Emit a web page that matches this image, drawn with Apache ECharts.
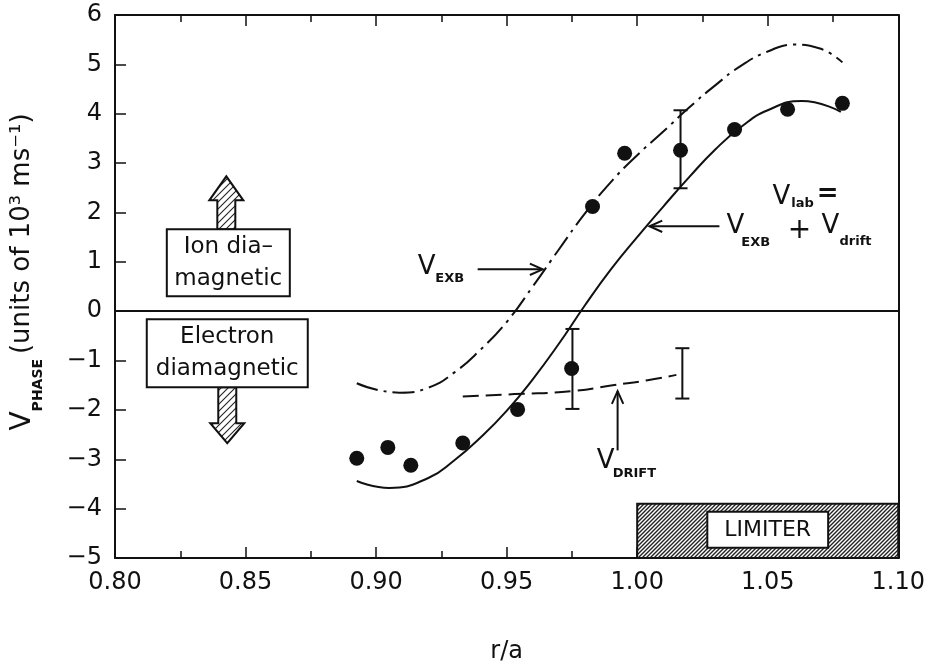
<!DOCTYPE html>
<html>
<head>
<meta charset="utf-8">
<script src="https://cdn.jsdelivr.net/npm/echarts@6/dist/echarts.min.js"></script>
<style>
  html, body { margin: 0; padding: 0; background: #fff; }
  #chart { width: 928px; height: 672px; }
</style>
</head>
<body>
<div id="chart"></div>
<script>
const FONT = 'DejaVu Sans';
const INK = '#111';

// Axis ranges
const xMin = 0.80, xMax = 1.10, xStep = 0.05;
const yMin = -5, yMax = 6, yStep = 1;

// Measured phase velocity (r/a, units of 10^3 m/s)
const pointR = [0.8926, 0.9045, 0.9133, 0.9332, 0.9542, 0.9749, 0.9829, 0.9952, 1.0166, 1.0373, 1.0576, 1.0786];
const pointV = [-2.98, -2.76, -3.12, -2.67, -1.99, -1.16, 2.12, 3.20, 3.26, 3.68, 4.09, 4.21];

// V_lab = V_ExB + V_drift
const labR = [0.8926, 0.905, 0.920, 0.930, 0.940, 0.950, 0.960, 0.970, 0.980, 0.990, 1.000, 1.010, 1.020, 1.030, 1.040, 1.050, 1.063, 1.078];
const labV = [-3.44, -3.58, -3.38, -3.02, -2.56, -2.02, -1.38, -0.66, 0.12, 0.85, 1.50, 2.12, 2.72, 3.28, 3.74, 4.07, 4.26, 4.04];

// V_ExB
const exbR = [0.8926, 0.909, 0.920, 0.930, 0.940, 0.950, 0.960, 0.970, 0.980, 0.990, 1.000, 1.010, 1.020, 1.030, 1.040, 1.050, 1.060, 1.070, 1.0786];
const exbV = [-1.46, -1.65, -1.55, -1.24, -0.78, -0.22, 0.50, 1.25, 1.98, 2.62, 3.16, 3.64, 4.13, 4.58, 4.98, 5.26, 5.40, 5.32, 5.04];

// V_drift
const driftR = [0.9332, 0.9530, 0.9750, 0.9906, 1.0040, 1.0150];
const driftV = [-1.73, -1.68, -1.62, -1.50, -1.40, -1.29];

// Error bars: position, lower end, upper end
const errR = [0.9752, 1.0166, 1.0173];
const errLow = [-1.98, 2.49, -1.77];
const errHigh = [-0.36, 4.07, -0.75];

// Limiter shadow region
const limiterR = [1.00, 1.10];
const limiterV = [-5, -3.9];

const pair = (xs, ys) => xs.map((x, i) => [x, ys[i]]);

function hatch(size, lw, color) {
  const c = document.createElement('canvas');
  c.width = c.height = size;
  const g = c.getContext('2d');
  g.fillStyle = '#fff';
  g.fillRect(0, 0, size, size);
  g.strokeStyle = color;
  g.lineWidth = lw;
  g.beginPath();
  g.moveTo(0, size); g.lineTo(size, 0);
  g.moveTo(-size / 2, size / 2); g.lineTo(size / 2, -size / 2);
  g.moveTo(size / 2, size * 1.5); g.lineTo(size * 1.5, size / 2);
  g.stroke();
  return c;
}
const limiterHatch = { image: hatch(4, 1.4, '#222'), repeat: 'repeat' };
const arrowHatch = { image: hatch(7, 1.1, '#222'), repeat: 'repeat' };

const chart = echarts.init(document.getElementById('chart'), null, { renderer: 'canvas' });

const tickFont = { color: INK, fontFamily: FONT, fontSize: 24 };
const lineSty = { color: INK, width: 2 };

const option = {
  animation: false,
  backgroundColor: '#fff',
  grid: { left: 115, right: 29, top: 15, bottom: 114 },
  xAxis: [
    {
      type: 'value', min: xMin, max: xMax, interval: xStep, position: 'bottom',
      axisLine: { onZero: false, lineStyle: lineSty },
      axisTick: { inside: true, length: 11, lineStyle: { color: INK, width: 1.5 } },
      minorTick: { show: true, splitNumber: 2, length: 7, lineStyle: { color: INK, width: 1.5 } },
      splitLine: { show: false },
      axisLabel: Object.assign({ margin: 13, formatter: v => v.toFixed(2) }, tickFont),
      name: 'r/a', nameLocation: 'middle', nameGap: 82,
      nameTextStyle: { color: INK, fontFamily: FONT, fontSize: 24 }
    },
    {
      type: 'value', min: xMin, max: xMax, interval: xStep, position: 'top',
      axisLine: { onZero: false, lineStyle: lineSty },
      axisTick: { inside: true, length: 11, lineStyle: { color: INK, width: 1.5 } },
      minorTick: { show: true, splitNumber: 2, length: 7, lineStyle: { color: INK, width: 1.5 } },
      splitLine: { show: false },
      axisLabel: { show: false }
    }
  ],
  yAxis: [
    {
      type: 'value', min: yMin, max: yMax, interval: yStep,
      axisLine: { show: true, onZero: false, lineStyle: lineSty },
      axisTick: { inside: true, length: 11, lineStyle: { color: INK, width: 1.5 } },
      splitLine: { show: false },
      axisLabel: Object.assign({ margin: 13, formatter: v => (v < 0 ? '\u2212' + Math.abs(v) : String(v)) }, tickFont)
    },
    {
      type: 'value', min: yMin, max: yMax, interval: yStep, position: 'right',
      axisLine: { show: true, onZero: false, lineStyle: lineSty },
      axisTick: { show: false },
      splitLine: { show: false },
      axisLabel: { show: false }
    }
  ],
  series: [
    {
      name: 'V_lab', type: 'line', data: pair(labR, labV), smooth: 0.5,
      symbol: 'none', lineStyle: { color: INK, width: 2 }, z: 3,
      markLine: {
        silent: true, symbol: ['none', 'none'], label: { show: false },
        lineStyle: { color: INK, width: 2, type: 'solid' },
        data: [{ yAxis: 0 }]
      },
      markArea: {
        silent: true,
        itemStyle: { color: limiterHatch, borderColor: INK, borderWidth: 2 },
        data: [[{ coord: [limiterR[0], limiterV[0]] }, { coord: [limiterR[1], limiterV[1]] }]]
      }
    },
    {
      name: 'V_ExB', type: 'line', data: pair(exbR, exbV), smooth: 0.5,
      symbol: 'none', lineStyle: { color: INK, width: 2, type: [22, 6, 3, 6] }, z: 3
    },
    {
      name: 'V_drift', type: 'line', data: pair(driftR, driftV), smooth: 0.5,
      symbol: 'none', lineStyle: { color: INK, width: 2, type: [16, 7] }, z: 3
    },
    {
      name: 'measured', type: 'scatter', data: pair(pointR, pointV),
      symbol: 'circle', symbolSize: 15, itemStyle: { color: INK, opacity: 1 }, z: 5
    },
    {
      name: 'error', type: 'custom',
      data: errR.map((r, i) => [r, errLow[i], errHigh[i]]),
      encode: { x: 0, y: [1, 2] },
      z: 4,
      renderItem: function (params, api) {
        const x = api.value(0);
        const lo = api.coord([x, api.value(1)]);
        const hi = api.coord([x, api.value(2)]);
        const w = 7;
        const st = { stroke: INK, lineWidth: 2 };
        return {
          type: 'group',
          children: [
            { type: 'line', shape: { x1: lo[0], y1: lo[1], x2: hi[0], y2: hi[1] }, style: st },
            { type: 'line', shape: { x1: lo[0] - w, y1: lo[1], x2: lo[0] + w, y2: lo[1] }, style: st },
            { type: 'line', shape: { x1: hi[0] - w, y1: hi[1], x2: hi[0] + w, y2: hi[1] }, style: st }
          ]
        };
      }
    }
  ]
};

chart.setOption(option);

// ---- annotations ----
const px = (x, y) => chart.convertToPixel({ xAxisIndex: 0, yAxisIndex: 0 }, [x, y]);

function label(text, x, y, size, weight) {
  const p = px(x, y);
  return {
    type: 'text', x: p[0], y: p[1], z: 20,
    style: {
      text: text, fill: INK, align: 'left', verticalAlign: 'middle',
      font: (weight || 'normal') + ' ' + size + 'px "' + FONT + '"'
    }
  };
}

function arrow(x1, y1, x2, y2) {
  const a = px(x1, y1), b = px(x2, y2);
  const ang = Math.atan2(b[1] - a[1], b[0] - a[0]);
  const L = 14, sp = 0.42;
  const h1 = [b[0] - L * Math.cos(ang - sp), b[1] - L * Math.sin(ang - sp)];
  const h2 = [b[0] - L * Math.cos(ang + sp), b[1] - L * Math.sin(ang + sp)];
  const st = { stroke: INK, lineWidth: 2, fill: 'none' };
  return [
    { type: 'line', z: 20, shape: { x1: a[0], y1: a[1], x2: b[0], y2: b[1] }, style: st },
    { type: 'polyline', z: 20, shape: { points: [h1, b, h2] }, style: st }
  ];
}

function textBox(lines, x, y, w, h, size, lh) {
  const c = px(x, y);
  return [
    { type: 'rect', z: 20, shape: { x: c[0] - w / 2, y: c[1] - h / 2, width: w, height: h },
      style: { fill: '#fff', stroke: INK, lineWidth: 2 } },
    { type: 'text', z: 21, x: c[0], y: c[1],
      style: { text: lines.join('\n'), fill: INK, align: 'center', verticalAlign: 'middle',
               lineHeight: lh, font: size + 'px "' + FONT + '"' } }
  ];
}

// hatched block arrow; dir = -1 up, +1 down
function blockArrow(cx, y0, dir, shaftLen, headLen) {
  const sw = 9, hw = 17;
  const yb = y0 + dir * shaftLen, yt = yb + dir * headLen;
  return {
    type: 'polygon', z: 19,
    shape: { points: [[cx - sw, y0], [cx - sw, yb], [cx - hw, yb], [cx, yt], [cx + hw, yb], [cx + sw, yb], [cx + sw, y0]] },
    style: { fill: arrowHatch, stroke: INK, lineWidth: 2 }
  };
}

const ionC = px(0.8434, 0.980);
const eleC = px(0.8430, -0.852);
const ionH = 67, eleH = 68;

const graphics = [].concat(
  textBox(['Ion dia\u2013', 'magnetic'], 0.8434, 0.980, 123, ionH, 23, 32),
  textBox(['Electron', 'diamagnetic'], 0.8430, -0.852, 161, eleH, 23, 32),
  [blockArrow(ionC[0] - 2, ionC[1] - ionH / 2, -1, 29, 24),
   blockArrow(eleC[0], eleC[1] + eleH / 2, 1, 36, 20)],
  // V_ExB
  [label('V', 0.9160, 0.90, 26), label('EXB', 0.9227, 0.66, 13, 'bold')],
  arrow(0.9389, 0.848, 0.9638, 0.848),
  // V_drift
  [label('V', 0.9845, -3.04, 26), label('DRIFT', 0.9906, -3.30, 13, 'bold')],
  arrow(0.9925, -2.82, 0.9925, -1.62),
  // V_lab = V_ExB + V_drift
  [label('V', 1.0518, 2.30, 26), label('lab', 1.0590, 2.18, 13, 'bold'), label('=', 1.0688, 2.36, 26, 'bold')],
  [label('V', 1.0342, 1.72, 26), label('EXB', 1.0399, 1.38, 13, 'bold'),
   label('+', 1.0577, 1.62, 28), label('V', 1.0706, 1.72, 26), label('drift', 1.0775, 1.40, 13, 'bold')],
  arrow(1.0315, 1.72, 1.0047, 1.72),
  // limiter tag
  [{
    type: 'text', z: 22, x: px(1.050, -4.43)[0], y: px(1.050, -4.43)[1],
    style: { text: 'LIMITER', fill: INK, align: 'center', verticalAlign: 'middle',
             font: '22px "' + FONT + '"', backgroundColor: '#fff', borderColor: INK, borderWidth: 2,
             padding: [6, 16], lineHeight: 22 }
  }],
  // y axis title
  [{
    type: 'text', z: 20, x: 25, y: 272, rotation: Math.PI / 2,
    style: {
      text: '{v|V}{s|PHASE }{t|(units of 10\u00b3 ms\u207b\u00b9)}',
      align: 'center', verticalAlign: 'middle', fill: INK,
      rich: {
        v: { fontFamily: FONT, fontSize: 28, lineHeight: 32, verticalAlign: 'top', fill: INK },
        s: { fontFamily: FONT, fontSize: 14, fontWeight: 'bold', lineHeight: 15, padding: [22, 0, 0, 0], verticalAlign: 'top', fill: INK },
        t: { fontFamily: FONT, fontSize: 26, lineHeight: 32, verticalAlign: 'top', fill: INK }
      }
    }
  }]
);

chart.setOption({ graphic: graphics });
</script>
</body>
</html>
